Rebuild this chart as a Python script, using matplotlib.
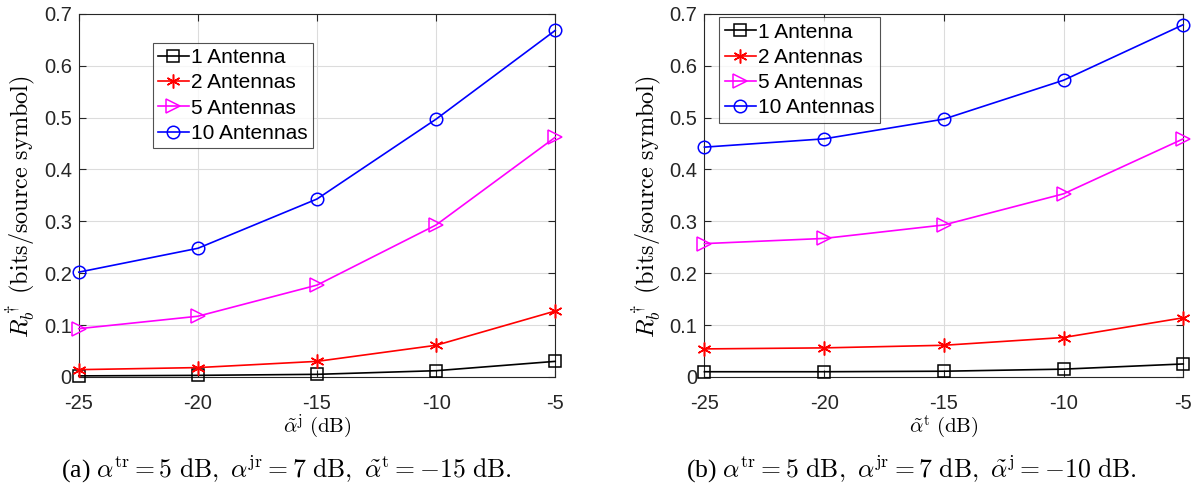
import matplotlib
matplotlib.use("Agg")
import matplotlib.pyplot as plt

plt.rcParams['mathtext.fontset'] = 'cm'
plt.rcParams['font.family'] = ['Liberation Sans', 'DejaVu Sans']

x_vals = [-25, -20, -15, -10, -5]
labels = ['1 Antenna', '2 Antennas', '5 Antennas', '10 Antennas']

# (a) varying jammer power
rate_a_1 = [0.002, 0.003, 0.005, 0.012, 0.030]
rate_a_2 = [0.014, 0.018, 0.030, 0.061, 0.127]
rate_a_5 = [0.093, 0.117, 0.177, 0.293, 0.462]
rate_a_10 = [0.202, 0.248, 0.343, 0.497, 0.668]

# (b) varying transmitter power
rate_b_1 = [0.010, 0.010, 0.011, 0.015, 0.025]
rate_b_2 = [0.054, 0.056, 0.061, 0.076, 0.114]
rate_b_5 = [0.257, 0.267, 0.293, 0.353, 0.459]
rate_b_10 = [0.443, 0.459, 0.497, 0.572, 0.679]

# MATLAB-like markers; the asterisk is drawn as 6 lines
styles = [
    dict(color='black', marker='s', markersize=8),
    dict(color='red', marker=(6, 2, 0), markersize=10),
    dict(color='magenta', marker='>', markersize=10),
    dict(color='blue', marker='o', markersize=9),
]

fig = plt.figure(figsize=(11.94, 4.94), dpi=100)
ax1 = fig.add_axes([0.066, 0.237, 0.399, 0.735])
ax2 = fig.add_axes([0.590, 0.237, 0.401, 0.735])


def draw(ax, series, xlabel, legend_loc):
    for ys, lab, st in zip(series, labels, styles):
        ax.plot(x_vals, ys, label=lab, linewidth=1.2, markerfacecolor='none',
                markeredgewidth=1.1, color=st['color'], marker=st['marker'],
                markersize=st['markersize'], clip_on=False, zorder=3)
    ax.set_xlim(-25, -5)
    ax.set_ylim(0, 0.7)
    ax.set_xticks(x_vals)
    ax.set_xticklabels([str(v) for v in x_vals])
    ax.set_yticks([0, 0.1, 0.2, 0.3, 0.4, 0.5, 0.6, 0.7])
    ax.set_yticklabels(['0', '0.1', '0.2', '0.3', '0.4', '0.5', '0.6', '0.7'])
    ax.tick_params(direction='in', top=True, right=True, labelsize=14.5,
                   length=5, colors='#262626')
    ax.tick_params(axis='x', pad=12)
    ax.tick_params(axis='y', pad=5)
    ax.grid(True, color='#dcdcdc', linewidth=0.8)
    for sp in ax.spines.values():
        sp.set_color('#262626')
        sp.set_linewidth(0.8)
    ax.set_xlabel(xlabel, fontsize=15, labelpad=0)
    ax.set_ylabel(r'$R_b^\dagger\ (\mathrm{bits/source\ symbol})$', fontsize=17.5)
    ax.yaxis.set_label_coords(-0.085, 0.47)
    leg = ax.legend(loc='upper left', bbox_to_anchor=legend_loc, fontsize=15,
                    frameon=True, fancybox=False, edgecolor='#262626',
                    handlelength=1.5, handletextpad=0.1, borderpad=0.25,
                    labelspacing=0.3, borderaxespad=0)
    leg.get_frame().set_linewidth(0.8)


draw(ax1, [rate_a_1, rate_a_2, rate_a_5, rate_a_10],
     r'$\tilde{\alpha}^{\mathrm{j}}\ (\mathrm{dB})$', (0.155, 0.92))
draw(ax2, [rate_b_1, rate_b_2, rate_b_5, rate_b_10],
     r'$\tilde{\alpha}^{\mathrm{t}}\ (\mathrm{dB})$', (0.031, 0.99))

fig.text(0.240, 0.05,
         r'(a) $\alpha^{\mathrm{tr}} = 5\ \mathrm{dB},\ \alpha^{\mathrm{jr}} = 7\ \mathrm{dB},\ \tilde{\alpha}^{\mathrm{t}} = -15\ \mathrm{dB}.$',
         ha='center', va='center', fontsize=18.5, family='Liberation Serif')
fig.text(0.763, 0.05,
         r'(b) $\alpha^{\mathrm{tr}} = 5\ \mathrm{dB},\ \alpha^{\mathrm{jr}} = 7\ \mathrm{dB},\ \tilde{\alpha}^{\mathrm{j}} = -10\ \mathrm{dB}.$',
         ha='center', va='center', fontsize=18.5, family='Liberation Serif')

fig.savefig('out.png', dpi=100)
